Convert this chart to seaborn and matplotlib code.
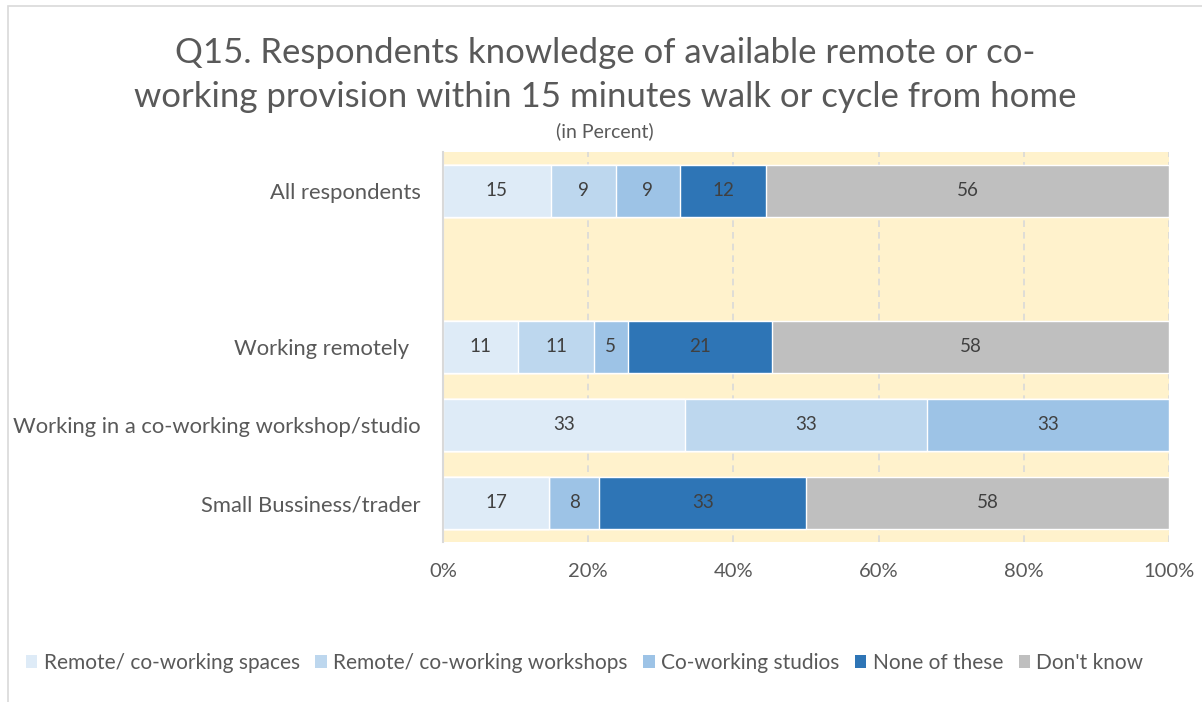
import numpy as np
import pandas as pd
import matplotlib
matplotlib.use("Agg")
import matplotlib.pyplot as plt
from matplotlib.patches import Patch, Rectangle
import seaborn as sns

# categories (top to bottom), blank row kept as in the original
groups = ["All respondents", " ", "Working remotely  ",
          "Working in a co-working workshop/studio", "Small Bussiness/trader"]

series_names = ["Remote/ co-working spaces", "Remote/ co-working workshops",
                "Co-working studios", "None of these", "Don't know"]

spaces = [15, np.nan, 11, 33, 17]
workshops = [9, np.nan, 11, 33, np.nan]
studios = [9, np.nan, 5, 33, 8]
none_of_these = [12, np.nan, 21, np.nan, 33]
dont_know = [56, np.nan, 58, np.nan, 58]

colors = ["#DEEBF7", "#BDD7EE", "#9DC3E6", "#2E75B6", "#BFBFBF"]

sns.set_style("white")
plt.rcParams['font.family'] = ['Lato', 'DejaVu Sans']

df = pd.DataFrame({"group": groups})
for name, vals in zip(series_names, [spaces, workshops, studios, none_of_these, dont_know]):
    df[name] = vals

raw = df[series_names].fillna(0)
totals = raw.sum(axis=1).replace(0, np.nan)
pct = raw.div(totals, axis=0) * 100
cum = pct.cumsum(axis=1)

fig = plt.figure(figsize=(12.02, 7.02), dpi=100)
ax = fig.add_axes([443/1202, 1 - 542/702, 726/1202, 390/702])
ax.set_facecolor("#FFF2CC")

# stacked bars: draw cumulative totals from the last series backwards
for i in range(len(series_names) - 1, -1, -1):
    plot_df = pd.DataFrame({"group": groups, "val": cum.iloc[:, i].values})
    sns.barplot(data=plot_df, x="val", y="group", order=groups, color=colors[i],
                saturation=1, width=0.667, errorbar=None, ax=ax, zorder=2)

# segment labels
for i, name in enumerate(series_names):
    for j in range(len(groups)):
        v = df[name].iloc[j]
        if pd.isna(v):
            continue
        end = cum.iloc[j, i]
        start = end - pct.iloc[j, i]
        ax.text((start + end) / 2, j, "%d" % v, ha="center", va="center",
                fontsize=13.5, color="#404040", zorder=5)

ax.set_xlim(0, 100)
ax.set_ylim(4.5, -0.5)
ax.set_xticks([0, 20, 40, 60, 80, 100])
ax.set_xticklabels(["0%", "20%", "40%", "60%", "80%", "100%"])
ax.set_xlabel("")
ax.set_ylabel("")
ax.xaxis.grid(True, color="#D9D9D9", linestyle=(0, (4, 3)), linewidth=1.2, zorder=1)
ax.set_axisbelow(True)
ax.tick_params(axis="x", length=0, pad=15, labelsize=14.5, labelcolor="#595959")
ax.tick_params(axis="y", length=0, pad=16, labelsize=15.8, labelcolor="#595959")
for s in ["top", "right", "bottom"]:
    ax.spines[s].set_visible(False)
ax.spines["left"].set_color("#D9D9D9")
ax.spines["left"].set_linewidth(1.5)

fig.text(605/1202, 1 - 53/702, "Q15. Respondents knowledge of available remote or co-",
         ha="center", va="center", fontsize=25, color="#595959")
fig.text(605/1202, 1 - 97/702, "working provision within 15 minutes walk or cycle from home",
         ha="center", va="center", fontsize=25, color="#595959")
fig.text(605/1202, 1 - 131/702, "(in Percent)", ha="center", va="center",
         fontsize=14, color="#595959")

handles = [Patch(facecolor=c, edgecolor="none") for c in colors]
fig.legend(handles, series_names, loc="center left", ncol=5, frameon=False,
           bbox_to_anchor=(26/1202, 1 - 663/702), borderpad=0, borderaxespad=0,
           fontsize=15.0, labelcolor="#595959",
           handlelength=0.55, handleheight=0.55, handletextpad=0.3, columnspacing=0.75)

# chart border (cut off at right and bottom)
fig.add_artist(Rectangle((8/1202, -0.1), 1.2, 1 - 6/702 + 0.1, transform=fig.transFigure,
                         fill=False, edgecolor="#D9D9D9", linewidth=1.2))

fig.savefig("out.png", dpi=100)
